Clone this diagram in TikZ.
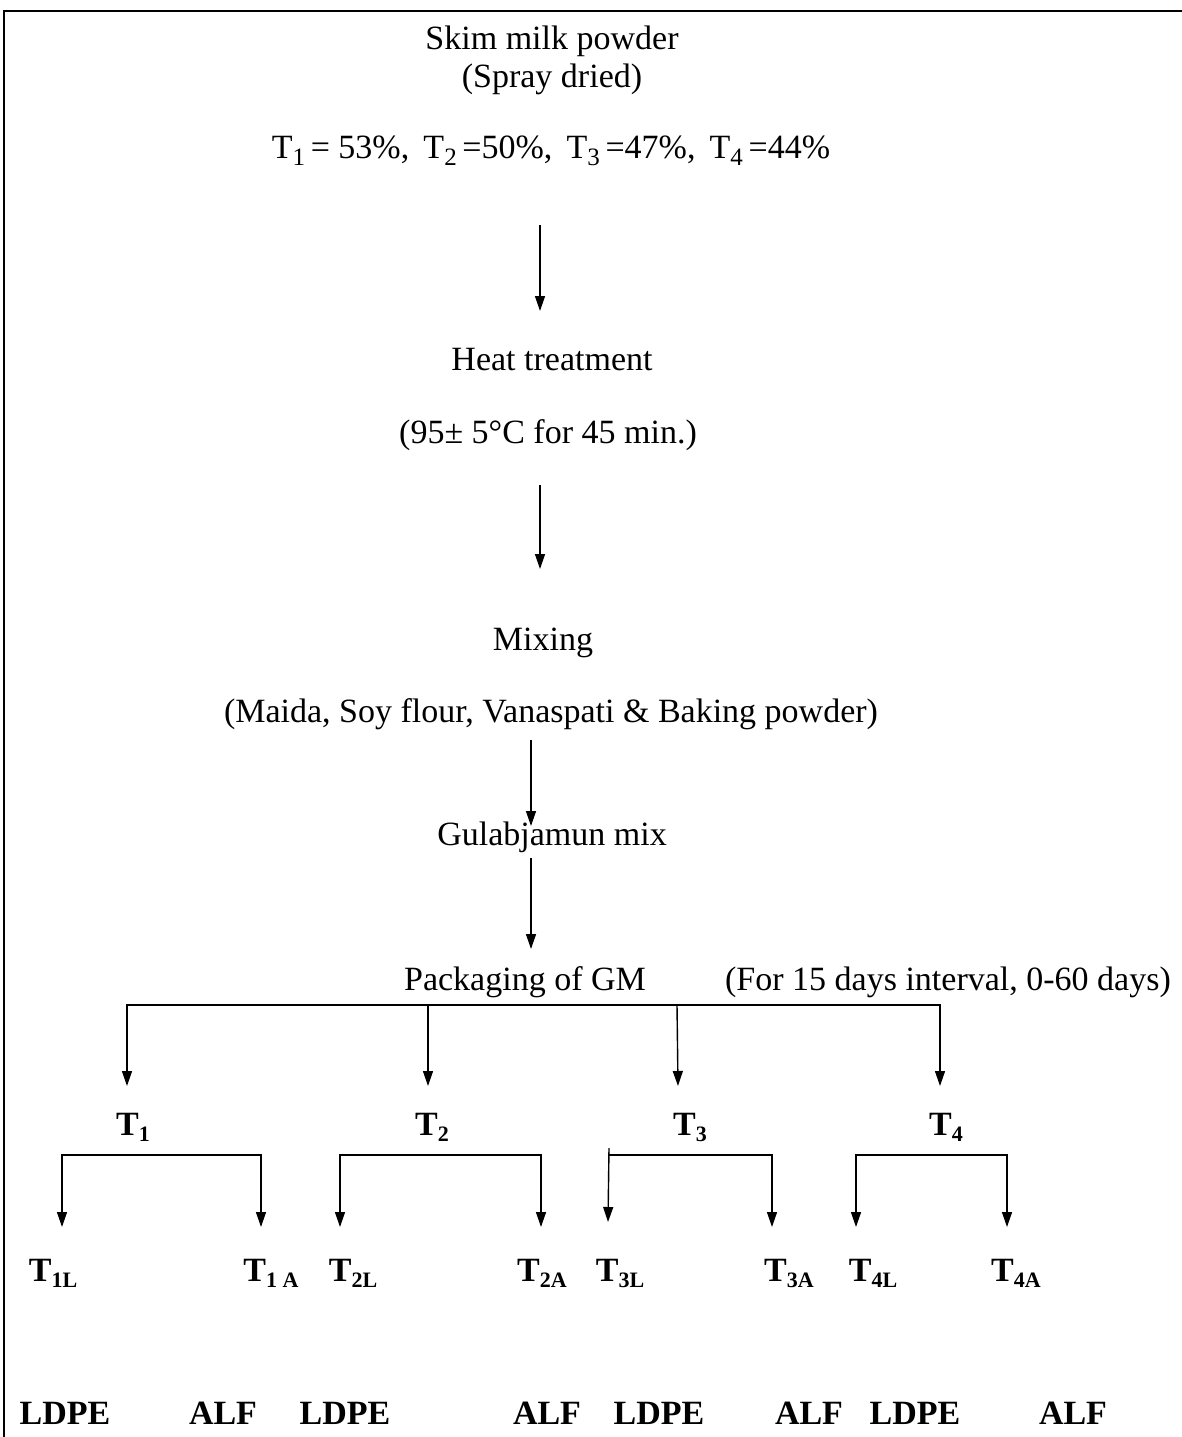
\documentclass[tikz,border=0pt]{standalone}
\usepackage{fontspec}
\setmainfont{Liberation Serif}
\usetikzlibrary{arrows.meta}
\newcommand{\lowidx}[1]{\raisebox{-0.2em}{\fontsize{22}{22}\selectfont #1}}
\newcommand{\lowidxb}[1]{\raisebox{-0.22em}{\fontsize{25}{25}\selectfont #1}}
\begin{document}
\begin{tikzpicture}[x=1pt,y=-1pt,
  txt/.style={font=\fontsize{34}{40}\selectfont, inner sep=0pt, anchor=base},
  lbl/.style={font=\fontsize{34}{40}\selectfont\bfseries, inner sep=0pt, anchor=base},
  arr/.style={line width=1.4pt, -{Triangle[length=15pt,width=10pt]}},
  bar/.style={line width=2.6pt, line cap=rect},
  frame/.style={line width=1.6pt}]
\useasboundingbox (0,0) rectangle (1182,1437);
% frame
\coordinate (fb) at (4,1437);
\coordinate (fc) at (4,11);
\coordinate (fr) at (1182,11);
\draw[frame] (fb) -- (fc) -- (fr);

% main column texts
\node[txt] (skim) at (552,50) {Skim milk powder};
\node[txt] (spray) at (552,88) {(Spray dried)};
\node[txt] (pct) at (551,158) {T\lowidxb{1}\,= 53\%, \,T\lowidxb{2}\,=50\%, \,T\lowidxb{3}\,=47\%, \,T\lowidxb{4}\,=44\%};
\node[txt] (heat) at (552,370) {Heat treatment};
\node[txt] (temp) at (548,443) {(95± 5°C for 45 min.)};
\node[txt] (mix) at (543,650) {Mixing};
\node[txt] (ingr) at (551,722) {(Maida, Soy flour, Vanaspati \& Baking powder)};
\node[txt] (gmix) at (552,845) {Gulabjamun mix};
\node[txt] (pack) at (525,990) {Packaging of GM};
\node[txt] (intv) at (948,990) {(For 15 days interval, 0-60 days)};

% main arrows
\coordinate (a1s) at (540,225); \coordinate (a1e) at (540,311);
\coordinate (a2s) at (540,485); \coordinate (a2e) at (540,569);
\coordinate (a3s) at (531,740); \coordinate (a3e) at (531,826);
\coordinate (a4s) at (531,858); \coordinate (a4e) at (531,949);
\draw[arr] (a1s) -- (a1e);
\draw[arr] (a2s) -- (a2e);
\draw[arr] (a3s) -- (a3e);
\draw[arr] (a4s) -- (a4e);

% distribution bar
\coordinate (m1) at (127,1005); \coordinate (m2) at (428,1005);
\coordinate (m3) at (677,1005); \coordinate (m4) at (940,1005);
\coordinate (m1e) at (127,1086); \coordinate (m2e) at (428,1086);
\coordinate (m3e) at (678,1086); \coordinate (m4e) at (940,1086);
\draw[bar] (m1) -- (m4);
\draw[arr] (m1) -- (m1e);
\draw[arr] (m2) -- (m2e);
\draw[arr] (m3) -- (m3e);
\draw[arr] (m4) -- (m4e);

% treatments
\node[lbl] (T1) at (133,1135) {T\lowidx{1}};
\node[lbl] (T2) at (432,1135) {T\lowidx{2}};
\node[lbl] (T3) at (690,1135) {T\lowidx{3}};
\node[lbl] (T4) at (946,1135) {T\lowidx{4}};

% sub brackets
\coordinate (s1l) at (62,1155);  \coordinate (s1r) at (261,1155);
\coordinate (s2l) at (340,1155); \coordinate (s2r) at (541,1155);
\coordinate (s3l) at (609,1155); \coordinate (s3r) at (772,1155);
\coordinate (s4l) at (856,1155); \coordinate (s4r) at (1007,1155);
\coordinate (s1le) at (62,1227);  \coordinate (s1re) at (261,1227);
\coordinate (s2le) at (340,1227); \coordinate (s2re) at (541,1227);
\coordinate (s3le) at (608,1222); \coordinate (s3re) at (772,1227);
\coordinate (s4le) at (856,1227); \coordinate (s4re) at (1007,1227);
\coordinate (s3top) at (609,1148);
\draw[bar] (s1l) -- (s1r);
\draw[bar] (s2l) -- (s2r);
\draw[bar] (s3l) -- (s3r);
\draw[bar] (s4l) -- (s4r);
\draw[arr] (s1l) -- (s1le); \draw[arr] (s1r) -- (s1re);
\draw[arr] (s2l) -- (s2le); \draw[arr] (s2r) -- (s2re);
\draw[arr] (s3top) -- (s3le); \draw[arr] (s3r) -- (s3re);
\draw[arr] (s4l) -- (s4le); \draw[arr] (s4r) -- (s4re);

% package labels
\node[lbl] (T1L) at (53,1281) {T\lowidx{1L}};
\node[lbl] (T1A) at (271,1281) {T\lowidx{1 A}};
\node[lbl] (T2L) at (353,1281) {T\lowidx{2L}};
\node[lbl] (T2A) at (542,1281) {T\lowidx{2A}};
\node[lbl] (T3L) at (620,1281) {T\lowidx{3L}};
\node[lbl] (T3A) at (789,1281) {T\lowidx{3A}};
\node[lbl] (T4L) at (873,1281) {T\lowidx{4L}};
\node[lbl] (T4A) at (1016,1281) {T\lowidx{4A}};

% materials
\node[lbl] (m1L) at (65,1424) {LDPE};
\node[lbl] (m1A) at (223,1424) {ALF};
\node[lbl] (m2L) at (345,1424) {LDPE};
\node[lbl] (m2A) at (547,1424) {ALF};
\node[lbl] (m3L) at (659,1424) {LDPE};
\node[lbl] (m3A) at (809,1424) {ALF};
\node[lbl] (m4L) at (915,1424) {LDPE};
\node[lbl] (m4A) at (1073,1424) {ALF};
\end{tikzpicture}
\end{document}
